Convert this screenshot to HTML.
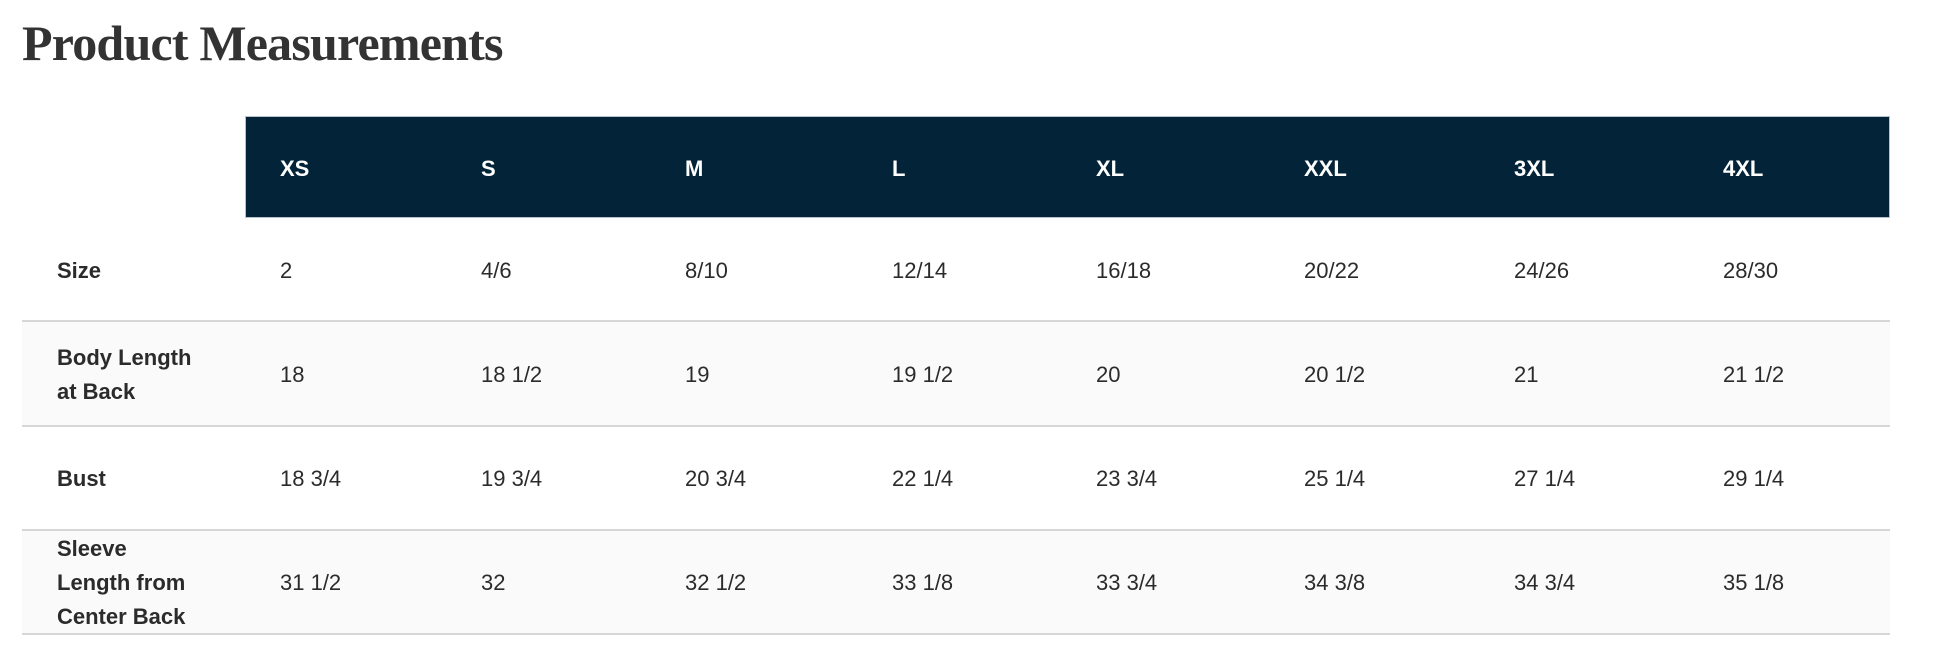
<!DOCTYPE html>
<html><head><style>
html,body{margin:0;padding:0;background:#fff;width:1946px;height:668px;overflow:hidden}
body{position:relative;font-family:"Liberation Sans",sans-serif;color:#2b2b2b}
h1{position:absolute;left:22px;top:14px;margin:0;font-family:"Liberation Serif",serif;font-weight:bold;font-size:50px;color:#333;letter-spacing:-0.8px}
.hdr{position:absolute;left:245px;top:116px;width:1645px;height:102px;background:#022338;border:1px solid #b9c2c9;box-sizing:border-box}
.row{position:absolute;left:22px;width:1868px;border-bottom:2px solid #d6d6d6;box-sizing:border-box}
.alt{background:#fafafa}
.c{position:absolute;font-size:22px;transform:translateY(-50%);white-space:nowrap}
.h{color:#fff;font-weight:bold}
.l{position:absolute;left:35px;font-weight:bold;font-size:22px;line-height:34px;transform:translateY(-50%)}
</style></head><body>
<h1>Product Measurements</h1>
<div class="hdr"></div>
<div class="row" style="top:218px;height:104px"></div>
<div class="row alt" style="top:322px;height:105px"></div>
<div class="row" style="top:427px;height:104px"></div>
<div class="row alt" style="top:531px;height:104px"></div>
<div id="t"></div>
<script>
var xs=[280,481,685,892,1096,1304,1514,1723];
var H=["XS","S","M","L","XL","XXL","3XL","4XL"];
var R=[["2","4/6","8/10","12/14","16/18","20/22","24/26","28/30"],
["18","18 1/2","19","19 1/2","20","20 1/2","21","21 1/2"],
["18 3/4","19 3/4","20 3/4","22 1/4","23 3/4","25 1/4","27 1/4","29 1/4"],
["31 1/2","32","32 1/2","33 1/8","33 3/4","34 3/8","34 3/4","35 1/8"]];
var ys=[271,375,479,583];
var L=["Size","Body Length<br>at Back","Bust","Sleeve<br>Length from<br>Center Back"];
var s="";
H.forEach(function(h,i){s+='<div class="c h" style="left:'+xs[i]+'px;top:169px">'+h+'</div>';});
R.forEach(function(r,j){s+='<div class="l" style="left:57px;top:'+ys[j]+'px">'+L[j]+'</div>';
r.forEach(function(v,i){s+='<div class="c" style="left:'+xs[i]+'px;top:'+ys[j]+'px">'+v+'</div>';});});
document.getElementById("t").innerHTML=s;
</script>
</body></html>
